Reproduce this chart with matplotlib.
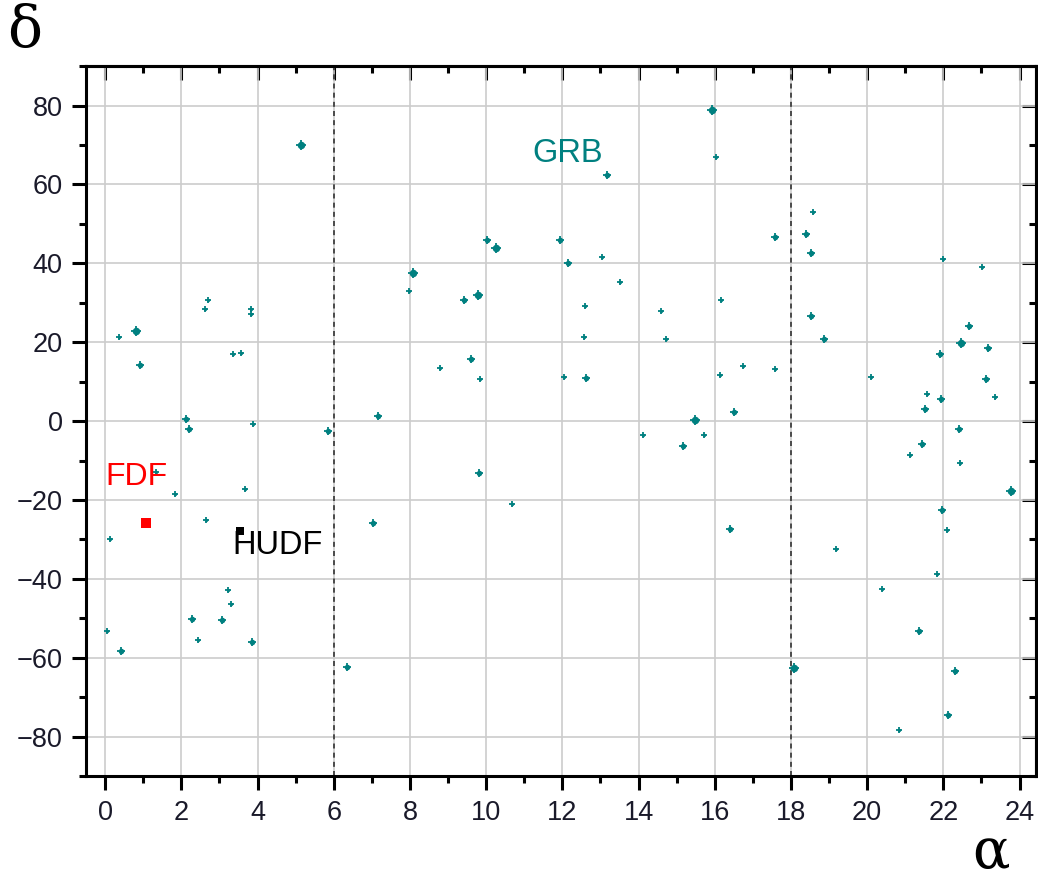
import matplotlib.pyplot as plt
from matplotlib.ticker import MultipleLocator

# GRB positions (right ascension in hours, declination in degrees), grouped by spot size
ra_big = [5.13, 10.26, 15.93, 8.08, 9.79, 0.80, 15.48, 22.46, 23.77, 18.07]
dec_big = [70.1, 43.9, 79.0, 37.6, 32.1, 22.8, 0.4, 19.8, -17.8, -62.6]

ra_mid = [13.17, 10.03, 11.95, 12.16, 9.43, 17.59, 18.40, 18.53, 0.91, 2.11,
          2.21, 5.85, 0.41, 2.29, 3.06, 3.86, 6.34, 9.61, 12.63, 7.15,
          9.81, 7.02, 18.52, 18.88, 16.50, 15.17, 16.39, 22.67, 23.18, 21.90,
          23.12, 21.94, 21.51, 22.41, 21.44, 21.97, 21.37, 22.31, 22.12]
dec_mid = [62.3, 46.0, 45.8, 40.1, 30.6, 46.6, 47.5, 42.6, 14.3, 0.5,
           -1.9, -2.6, -58.2, -50.1, -50.5, -56.0, -62.4, 15.7, 10.9, 1.3,
           -13.1, -25.8, 26.6, 20.8, 2.3, -6.3, -27.4, 24.0, 18.5, 17.1,
           10.7, 5.7, 3.1, -2.1, -5.9, -22.4, -53.1, -63.4, -74.6]

ra_small = [13.03, 13.50, 7.98, 16.04, 18.57, 22.00, 23.01, 16.16, 0.35, 2.61,
            2.71, 3.83, 3.83, 3.35, 3.57, 3.88, 1.34, 1.82, 3.66, 2.65,
            0.13, 3.23, 0.04, 2.44, 3.31, 8.80, 9.85, 12.60, 12.56, 14.60,
            14.73, 12.04, 14.12, 10.67, 16.13, 16.73, 17.57, 15.73, 19.17, 20.09,
            21.57, 23.36, 21.13, 22.44, 22.09, 21.83, 20.40, 20.83]
dec_small = [41.6, 35.2, 33.1, 66.9, 53.0, 41.1, 39.0, 30.6, 21.3, 28.4,
             30.6, 28.4, 27.2, 17.0, 17.4, -0.8, -12.9, -18.4, -17.1, -25.1,
             -29.8, -42.9, -53.1, -55.6, -46.3, 13.6, 10.7, 29.3, 21.3, 28.0,
             20.8, 11.1, -3.6, -20.9, 11.6, 14.1, 13.3, -3.6, -32.3, 11.2,
             6.9, 6.1, -8.7, -10.7, -27.7, -38.7, -42.5, -78.4]

# deep fields
fdf_ra, fdf_dec = 1.06, -25.7
hudf_ra, hudf_dec = 3.53, -27.9

teal = '#008080'

fig = plt.figure(figsize=(10.38, 8.82), dpi=100)
ax = fig.add_axes([0.083, 0.12, 0.915, 0.805])
ax.set_xlim(-0.5, 24.43)
ax.set_ylim(-90, 90)

ax.grid(True, which='major', color='#cccccc', lw=1.2)
ax.set_axisbelow(True)
for xv in (6, 18):
    ax.axvline(xv, color='#333333', lw=1.2, ls=(0, (3, 2.5)), zorder=2)

# each spot is a dot with a small cross on it
for ra, dec, dot, cross in ((ra_small, dec_small, 2.4, 5.0),
                            (ra_mid, dec_mid, 4.0, 6.0),
                            (ra_big, dec_big, 5.4, 7.5)):
    ax.plot(ra, dec, 'o', color=teal, ms=dot, mew=0, zorder=3)
    ax.plot(ra, dec, '+', color=teal, ms=cross, mew=1.3, zorder=3)

ax.plot([fdf_ra], [fdf_dec], 's', color='red', ms=6.5, mew=0, zorder=4)
ax.plot([hudf_ra], [hudf_dec], 's', color='black', ms=6, mew=0, zorder=4)

ax.text(12.13, 67.8, 'GRB', color=teal, fontsize=23.5, family='Liberation Sans',
        ha='center', va='center')
ax.text(0.83, -14.1, 'FDF', color='red', fontsize=23, family='Liberation Sans',
        ha='center', va='center')
ax.text(4.52, -31.4, 'HUDF', color='black', fontsize=23.5, family='Liberation Sans',
        ha='center', va='center')

# bottom/left ticks point out, top/right ticks point in
ax.xaxis.set_major_locator(MultipleLocator(2))
ax.xaxis.set_minor_locator(MultipleLocator(1))
ax.yaxis.set_major_locator(MultipleLocator(20))
ax.yaxis.set_minor_locator(MultipleLocator(10))
ax.tick_params(which='major', direction='out', length=10, width=2.2,
               labelsize=19.5, pad=7, labelcolor='#1a1a2a')
ax.tick_params(which='minor', direction='out', length=5, width=2.2)
for lab in ax.get_xticklabels() + ax.get_yticklabels():
    lab.set_family('Liberation Sans')

top = ax.secondary_xaxis('top')
top.xaxis.set_major_locator(MultipleLocator(2))
top.xaxis.set_minor_locator(MultipleLocator(1))
right = ax.secondary_yaxis('right')
right.yaxis.set_major_locator(MultipleLocator(20))
right.yaxis.set_minor_locator(MultipleLocator(10))
for sec in (top, right):
    sec.tick_params(which='major', direction='in', length=10, width=2.2,
                    labeltop=False, labelright=False)
    sec.tick_params(which='minor', direction='in', length=5, width=2.2)
    for sp in sec.spines.values():
        sp.set_linewidth(2.2)

for sp in ax.spines.values():
    sp.set_linewidth(2.2)

fig.text(0.024, 0.965, 'δ', fontsize=42, family='DejaVu Serif', ha='center', va='center')
fig.text(0.955, 0.003, 'α', fontsize=40, family='DejaVu Serif', ha='center', va='bottom')

fig.savefig('out.png', dpi=100)
